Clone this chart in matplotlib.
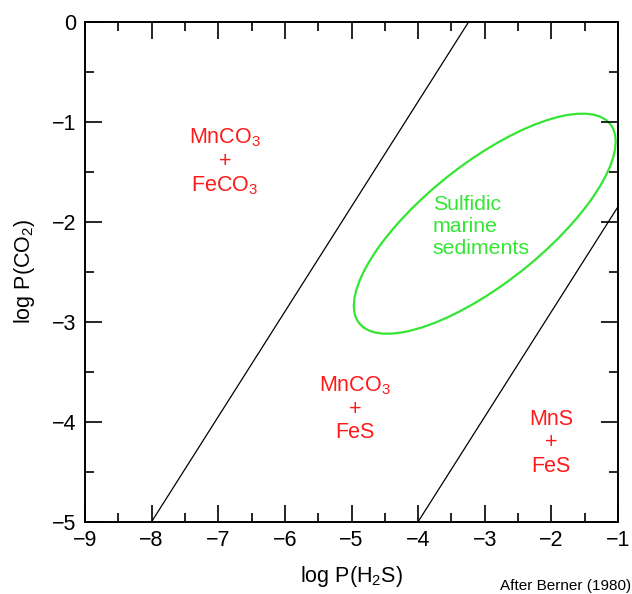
import matplotlib
matplotlib.use("Agg")
import matplotlib.pyplot as plt
from matplotlib.patches import Ellipse
from matplotlib.ticker import MultipleLocator

plt.rcParams['font.family'] = ['Liberation Sans', 'DejaVu Sans']
plt.rcParams['mathtext.fontset'] = 'custom'
plt.rcParams['mathtext.rm'] = 'Liberation Sans'
plt.rcParams['mathtext.it'] = 'Liberation Sans'
plt.rcParams['mathtext.default'] = 'regular'

# Phase boundary lines (log P(H2S), log P(CO2))
line1_x = [-8.0, -3.24]
line1_y = [-5.0, 0.0]
line2_x = [-4.0, -1.0]
line2_y = [-5.0, -1.85]

# Field of sulfidic marine sediments (ellipse in data units)
ellipse_center = (-3.0, -2.02)
ellipse_width = 4.30
ellipse_height = 1.34
ellipse_angle = 25.3

# Field labels
field_labels = ["MnCO$_3$\n+\nFeCO$_3$", "MnCO$_3$\n+\nFeS", "MnS\n+\nFeS"]
field_x = [-6.9, -4.95, -2.0]
field_y = [-1.40, -3.87, -4.21]
sed_label = "Sulfidic\nmarine\nsediments"
sed_x, sed_y = -3.78, -2.05

xticks = [-9, -8, -7, -6, -5, -4, -3, -2, -1]
yticks = [-5, -4, -3, -2, -1, 0]

fig = plt.figure(figsize=(6.32, 5.94), dpi=100)
ax = fig.add_axes([85/632, 1-521.7/594, (618-85)/632, 500/594])

ax.plot(line1_x, line1_y, color='black', lw=0.9)
ax.plot(line2_x, line2_y, color='black', lw=0.9)
ax.add_patch(Ellipse(ellipse_center, ellipse_width, ellipse_height, angle=ellipse_angle,
                     fill=False, edgecolor='#33e633', lw=1.6))

for lab, x, y in zip(field_labels, field_x, field_y):
    ax.text(x, y, lab, color='#ff1a1a', fontsize=15.5, ha='center', va='center',
            linespacing=1.15)
ax.text(sed_x, sed_y, sed_label, color='#33e633', fontsize=15.3, ha='left', va='center',
        linespacing=1.2)

ax.set_xlim(-9, -1)
ax.set_ylim(-5, 0)
ax.set_xticks(xticks)
ax.set_yticks(yticks)
ax.xaxis.set_minor_locator(MultipleLocator(0.5))
ax.yaxis.set_minor_locator(MultipleLocator(0.5))
ax.tick_params(which='both', direction='in', top=True, right=True, labelsize=15.5, pad=6)
ax.tick_params(which='major', length=12.5, width=1.2)
ax.tick_params(which='minor', length=6.5, width=1.2)
for s in ax.spines.values():
    s.set_linewidth(1.4)

ax.set_xlabel("log P(H$_2$S)", fontsize=15.5, labelpad=9)
ax.set_ylabel("log P(CO$_2$)", fontsize=15.5, labelpad=11)

fig.text(631/632, 1-586/594, "After Berner (1980)", fontsize=11, ha='right', va='center')

fig.savefig("out.png", dpi=100)
